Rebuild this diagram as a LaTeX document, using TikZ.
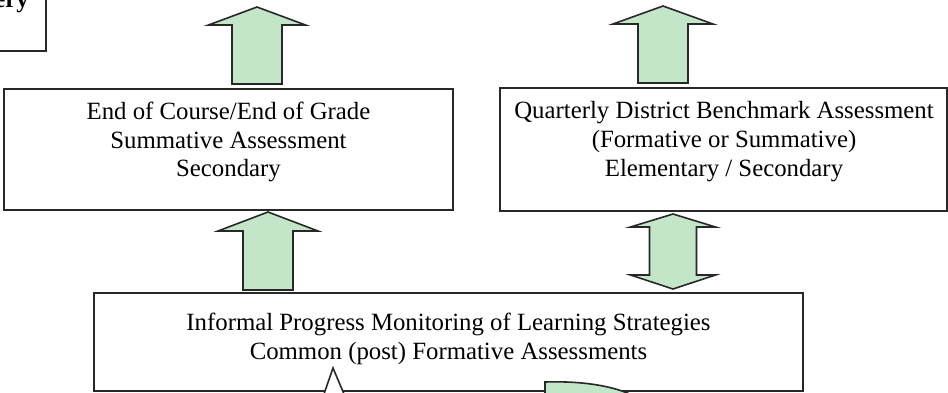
\documentclass[tikz,border=0pt]{standalone}
\usepackage{fontspec}
\setmainfont{Liberation Serif}
\definecolor{arrowgreen}{RGB}{195,230,200}
\definecolor{edge}{RGB}{40,40,40}
\tikzset{
  box/.style={draw=edge, line width=2pt, fill=white, inner sep=0pt},
  boxtext/.style={align=center, font=\fontsize{24.8}{28.7}\selectfont, inner sep=0pt, anchor=base},
  blockarrow/.style={draw=edge, line width=1.6pt, fill=arrowgreen, line join=miter},
  openhead/.style={draw=edge, line width=1.6pt, fill=white},
}
% upward block arrow: #1 centre x, #2 tip y, #3 head base y, #4 tail y,
% #5 head half width, #6 shaft half width
\newcommand\blockup[6]{%
  \filldraw[blockarrow] (#1,#2) -- (#1+#5,#3) -- (#1+#6,#3) -- (#1+#6,#4)
    -- (#1-#6,#4) -- (#1-#6,#3) -- (#1-#5,#3) -- cycle;}
% two-headed block arrow: #1 centre x, #2 top tip y, #3 top head base y,
% #4 bottom head base y, #5 bottom tip y, #6 head half width, #7 shaft half width
\newcommand\blockupdown[7]{%
  \filldraw[blockarrow] (#1,#2) -- (#1+#6,#3) -- (#1+#7,#3) -- (#1+#7,#4)
    -- (#1+#6,#4) -- (#1,#5) -- (#1-#6,#4) -- (#1-#7,#4) -- (#1-#7,#3)
    -- (#1-#6,#3) -- cycle;}
\begin{document}
\begin{tikzpicture}[x=1pt, y=-1pt]
  \useasboundingbox (0,0) rectangle (948,392);
  \clip (0,0) rectangle (948,392);

  % boxes (multi-line texts sit on the baseline of their last line)
  \node[box, anchor=south east, minimum width=160pt, minimum height=90pt] (delivery) at (47,52) {};
  \node[anchor=base east, inner sep=0pt, font=\fontsize{24.8}{28.7}\selectfont\bfseries] (deliverytext) at (29,7) {ery};

  \node[box, minimum width=449pt, minimum height=121pt] (eoc) at (228.5,149.5) {};
  \node[boxtext] (eoctext) at (228.5,176.7) {End of Course/End of Grade\\Summative Assessment\\Secondary};

  \node[box, minimum width=446.5pt, minimum height=123pt] (bench) at (723.25,149.5) {};
  \node[boxtext] (benchtext) at (724,176.3) {Quarterly District Benchmark Assessment\\(Formative or Summative)\\Elementary / Secondary};

  \node[box, minimum width=709pt, minimum height=98pt] (informal) at (448.5,342) {};
  \node[boxtext] (informaltext) at (448.5,359.5) {Informal Progress Monitoring of Learning Strategies\\Common (post) Formative Assessments};

  % block arrows between the boxes
  \blockup{257}{7}{25}{84}{48.5}{25}
  \blockup{663}{6}{24}{83}{50}{25}
  \blockup{268}{212}{231}{290}{50}{25}
  \blockupdown{673}{214}{227}{275}{289}{42.5}{23.5}

  % arrows entering the lower box from below
  \filldraw[openhead] (324,394) -- (333,368) -- (344,394);
  \filldraw[blockarrow] (545,396) -- (545,382) .. controls (575,381) and (610,384) .. (634,396) -- cycle;
\end{tikzpicture}
\end{document}
